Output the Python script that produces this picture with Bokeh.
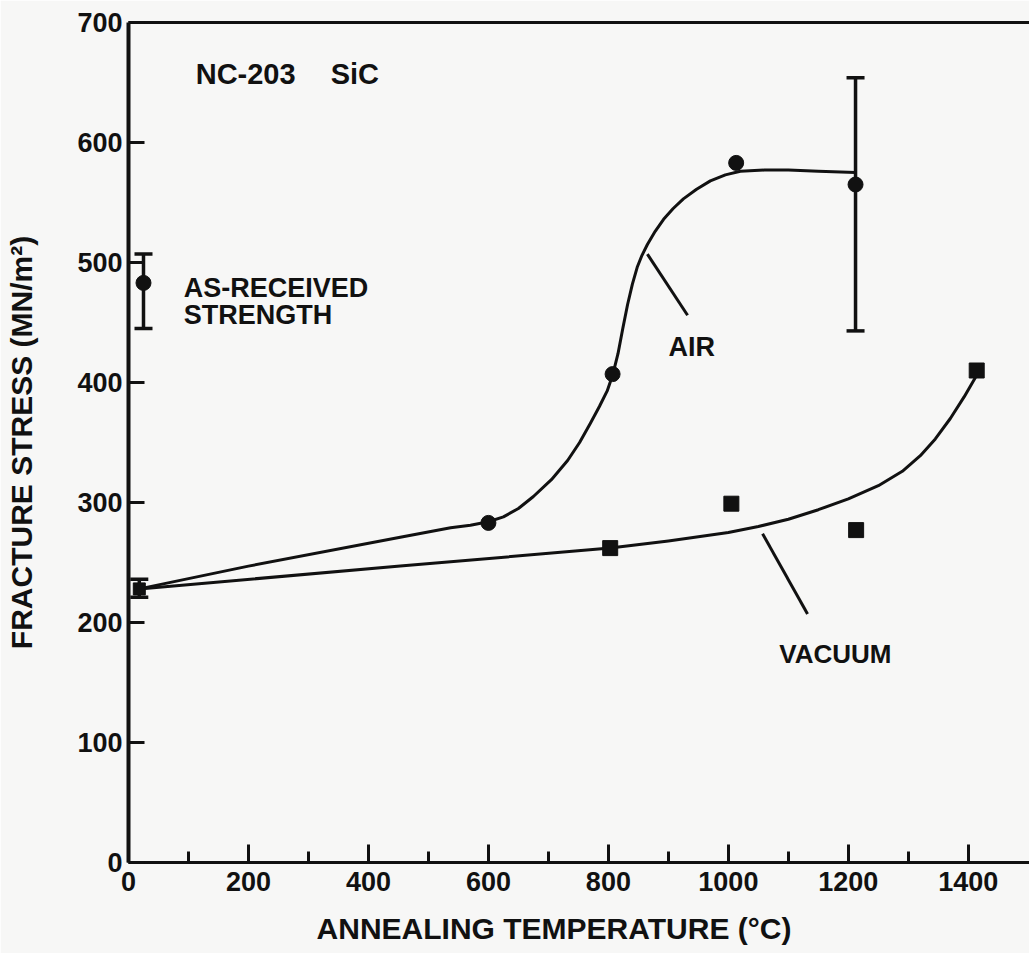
from bokeh.plotting import figure
from bokeh.models import LinearAxis, FixedTicker, Range1d
from bokeh.core.properties import value
from bokeh.embed import file_html
from bokeh.resources import INLINE

# ---------------- data ----------------
x_ticks = [0, 200, 400, 600, 800, 1000, 1200, 1400]
x_minor = [100, 300, 500, 700, 900, 1100, 1300]
y_ticks = [0, 100, 200, 300, 400, 500, 600, 700]

# room-temperature (common start) point
rt_temp = [18]
rt_stress = [228]
rt_low = [221]
rt_high = [236]

# as-received strength
asr_temp = [25]
asr_stress = [483]
asr_low = [445]
asr_high = [507]

# air anneal (circles)
air_temp = [600, 807, 1013, 1212]
air_stress = [283, 407, 583, 565]
air_err_temp = [1212]
air_err_low = [443]
air_err_high = [654]

# vacuum anneal (squares)
vac_temp = [803, 1005, 1213, 1414]
vac_stress = [262, 299, 277, 410]

# hand-drawn fit curves
air_curve_t = [18, 200, 453, 537, 570, 600, 625, 650, 675, 705, 732, 752, 770,
               785, 798, 807, 816, 824, 832, 840, 848, 856, 865, 878, 892, 908,
               925, 947, 970, 995, 1020, 1060, 1100, 1150, 1212]
air_curve_s = [228, 247, 271, 279, 281, 284, 288, 295, 305, 319, 335, 350, 366,
               380, 393, 406, 424, 445, 465, 482, 496, 506, 515, 526, 536, 545,
               553, 561, 568, 573, 576, 577, 577, 576, 575]
vac_curve_t = [18, 453, 803, 900, 1000, 1050, 1100, 1150, 1200, 1250, 1290,
               1320, 1345, 1370, 1393, 1414]
vac_curve_s = [228, 247, 262, 268, 275, 280, 286, 294, 303, 314, 326,
               339, 353, 370, 388, 406]

# leader lines for the curve labels
air_leader_t = [865, 932]
air_leader_s = [507, 456]
vac_leader_t = [1057, 1132]
vac_leader_s = [274, 207]

# annotation texts
note_text = ["NC-203", "SiC", "AS-RECEIVED", "STRENGTH", "AIR", "VACUUM"]
note_t = [112, 337, 92, 92, 900, 1085]
note_s = [657, 657, 479, 456, 430, 174]
note_size = ["29px", "29px", "27px", "27px", "27px", "26px"]

x_title = "ANNEALING TEMPERATURE (°C)"
y_title = "FRACTURE STRESS (MN/m²)"

INK = "#111111"
BG = "#f7f7f6"
FONT = "Liberation Sans"

p = figure(width=1029, height=953,
           x_range=Range1d(0, 1502), y_range=Range1d(0, 700),
           output_backend="svg", toolbar_location=None,
           min_border_left=128, min_border_right=0,
           min_border_top=22, min_border_bottom=91,
           x_axis_label=x_title + "\u00a0" * 6,
           y_axis_label=y_title)
p.grid.visible = False
p.outline_line_color = None
p.background_fill_color = BG
p.border_fill_color = BG

xa = p.xaxis[0]
xa.ticker = FixedTicker(ticks=x_ticks, minor_ticks=x_minor)
xa.axis_line_width = 3
xa.axis_line_color = INK
xa.major_tick_in = 18
xa.major_tick_out = 0
xa.minor_tick_in = 11
xa.minor_tick_out = 0
xa.major_tick_line_width = 3
xa.minor_tick_line_width = 3
xa.major_tick_line_color = INK
xa.minor_tick_line_color = INK
xa.major_label_text_font = FONT
xa.major_label_text_font_style = "bold"
xa.major_label_text_font_size = "27px"
xa.major_label_text_color = INK
xa.major_label_standoff = 9
xa.axis_label_text_font = FONT
xa.axis_label_text_font_style = "bold"
xa.axis_label_text_font_size = "30px"
xa.axis_label_text_color = INK
xa.axis_label_standoff = 18

ya = p.yaxis[0]
ya.ticker = FixedTicker(ticks=y_ticks, minor_ticks=[])
ya.axis_line_width = 4
ya.axis_line_color = INK
ya.major_tick_in = 16
ya.major_tick_out = 0
ya.major_tick_line_width = 3
ya.major_tick_line_color = INK
ya.major_label_text_font = FONT
ya.major_label_text_font_style = "bold"
ya.major_label_text_font_size = "27px"
ya.major_label_text_color = INK
ya.major_label_standoff = 6
ya.axis_label_text_font = FONT
ya.axis_label_text_font_style = "bold"
ya.axis_label_text_font_size = "30px"
ya.axis_label_text_color = INK
ya.axis_label_standoff = 36

top = LinearAxis(ticker=FixedTicker(ticks=[]), axis_line_width=3,
                 axis_line_color=INK, major_tick_out=0, major_tick_in=0,
                 minor_tick_out=0, minor_tick_in=0,
                 major_label_text_font_size="0px", major_label_standoff=0)
p.add_layout(top, "above")

# curves
p.line(air_curve_t, air_curve_s, line_width=3, color=INK, line_join="round")
p.line(vac_curve_t, vac_curve_s, line_width=3, color=INK, line_join="round")
p.line(air_leader_t, air_leader_s, line_width=3, color=INK)
p.line(vac_leader_t, vac_leader_s, line_width=3, color=INK)

# error bars
for t, lo, hi in [(rt_temp, rt_low, rt_high), (asr_temp, asr_low, asr_high),
                  (air_err_temp, air_err_low, air_err_high)]:
    p.segment(x0=t, y0=lo, x1=t, y1=hi, line_width=3.5, color=INK)
    p.scatter(t, lo, marker="dash", size=18, line_width=3.5, color=INK)
    p.scatter(t, hi, marker="dash", size=18, line_width=3.5, color=INK)

# markers
p.scatter(rt_temp, rt_stress, marker="square", size=12, color=INK)
p.scatter(asr_temp, asr_stress, marker="circle", size=15, color=INK)
p.scatter(air_temp, air_stress, marker="circle", size=15, color=INK)
p.scatter(vac_temp, vac_stress, marker="square", size=15, color=INK)

# annotation texts
p.text(x=note_t, y=note_s, text=note_text, text_font=value(FONT),
       text_font_style="bold", text_font_size=note_size, text_color=INK,
       text_align="left", text_baseline="alphabetic")

open("out.html", "w").write(file_html(p, INLINE))
